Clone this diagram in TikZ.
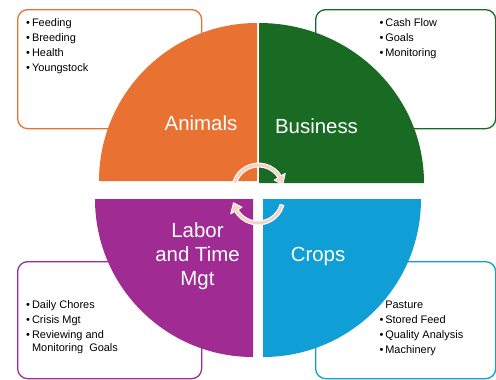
\documentclass[tikz,border=0pt]{standalone}
\usepackage{fontspec}
\setmainfont{Liberation Sans}
\definecolor{animalsC}{HTML}{E97132}
\definecolor{businessC}{HTML}{196B24}
\definecolor{laborC}{HTML}{A02B93}
\definecolor{cropsC}{HTML}{0F9ED5}
\definecolor{cycleC}{HTML}{F5D2C6}
% list entries with a bullet, and continuation lines aligned with the text
\newcommand{\itm}[1]{\textbullet\hspace{2bp}#1}
\newcommand{\itmcont}[1]{\phantom{\textbullet}\hspace{2bp}#1}
\begin{document}
\begin{tikzpicture}[x=1bp,y=-1bp,
  listbox/.style={draw, line width=1.3bp, rounded corners=10bp,
    minimum width=184bp, minimum height=119bp, anchor=north west, inner sep=0},
  listtext/.style={anchor=base west, inner sep=0, font=\fontsize{11}{15}\selectfont},
  quadlabel/.style={anchor=base, inner sep=0, text=white, font=\fontsize{20.5}{24}\selectfont},
  cyclearrow/.style={fill=cycleC, draw=white, line width=0.9bp, line join=round}
]
\useasboundingbox (0,0) rectangle (496,379);

% framed lists behind the quarter discs
\node[listbox, draw=animalsC] (animalsbox) at (17,9) {};
\node[listbox, draw=businessC, minimum width=180bp] (businessbox) at (315,9) {};
\node[listbox, draw=laborC, minimum height=117bp] (laborbox) at (17,261) {};
\node[listbox, draw=cropsC, minimum width=180bp, minimum height=117bp] (cropsbox) at (315,261) {};

\node[listtext] (animalslist) at (26,26.7) {\begin{tabular}[t]{@{}l@{}}
  \itm{Feeding}\\ \itm{Breeding}\\ \itm{Health}\\ \itm{Youngstock}\end{tabular}};
\node[listtext] (businesslist) at (379.3,26.7) {\begin{tabular}[t]{@{}l@{}}
  \itm{Cash Flow}\\ \itm{Goals}\\ \itm{Monitoring}\end{tabular}};
\node[listtext] (laborlist) at (26,308.5) {\begin{tabular}[t]{@{}l@{}}
  \itm{Daily Chores}\\ \itm{Crisis Mgt}\\ \itm{Reviewing and}\\[-1.5bp]
  \itmcont{Monitoring\ \ Goals}\end{tabular}};
\node[listtext] (cropslist) at (379.3,308.3) {\begin{tabular}[t]{@{}l@{}}
  \itmcont{Pasture}\\ \itm{Stored Feed}\\ \itm{Quality Analysis}\\ \itm{Machinery}\end{tabular}};

% the four quarter discs
\fill[animalsC] (257,181) -- (99,181) arc[start angle=180, end angle=270, radius=158] -- cycle;
\fill[businessC] (259,183) -- (259,23) arc[start angle=270, end angle=360, x radius=165, y radius=160] -- cycle;
\fill[laborC] (253,199) -- (95,199) arc[start angle=180, end angle=90, radius=158] -- cycle;
\fill[cropsC] (263,199) -- (263,357) arc[start angle=90, end angle=0, radius=158] -- cycle;

\node[quadlabel] (animals) at (201,130.7) {Animals};
\node[quadlabel] (business) at (316.5,133.3) {Business};
\node[quadlabel] (labor) at (197.5,237.3) {\begin{tabular}[t]{@{}c@{}}Labor\\ and Time\\ Mgt\end{tabular}};
\node[quadlabel] (crops) at (318,261.7) {Crops};

% circular arrows at the hub: a curved band ending in a triangular head
\coordinate (hubtop) at (258.5,190);
\coordinate (hubbottom) at (258,198);
\begin{scope}[shift={(hubtop)}]
  \path[cyclearrow] (196:27) arc[start angle=196, end angle=328, radius=27]
    -- (328:31.5) -- (347:25) -- (328:18.5) -- (328:23)
    arc[start angle=328, end angle=196, radius=23] -- cycle;
\end{scope}
\begin{scope}[shift={(hubbottom)}]
  \path[cyclearrow] (16:27) arc[start angle=16, end angle=150, radius=27]
    -- (150:31.5) -- (169:25) -- (150:18.5) -- (150:23)
    arc[start angle=150, end angle=16, radius=23] -- cycle;
\end{scope}
\end{tikzpicture}
\end{document}
